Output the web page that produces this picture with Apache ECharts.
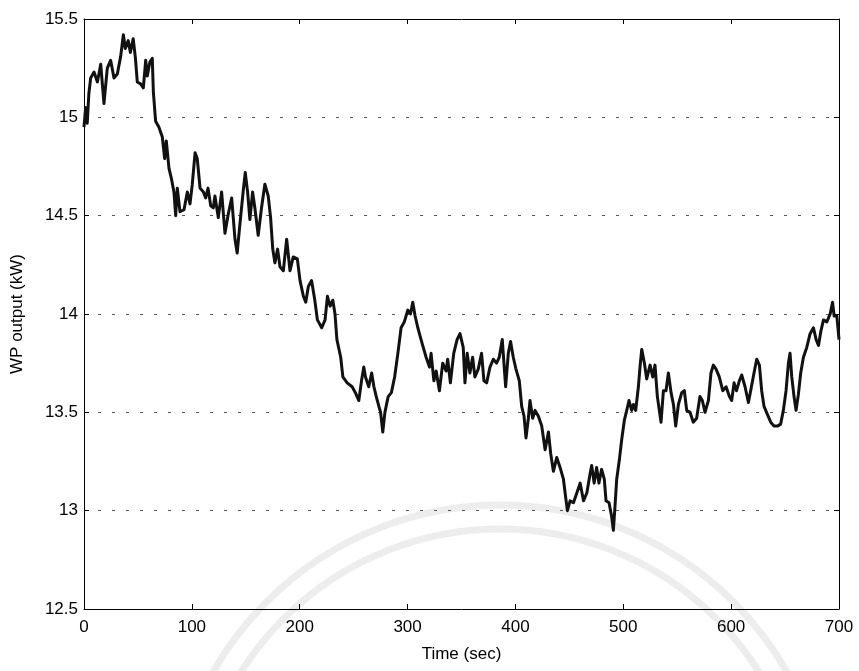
<!DOCTYPE html>
<html>
<head>
<meta charset="utf-8">
<title>WP output</title>
<script src="https://cdn.jsdelivr.net/npm/echarts@6/dist/echarts.min.js"></script>
<style>
  html, body { margin: 0; padding: 0; background: #ffffff; }
  #chart { width: 859px; height: 671px; }
</style>
</head>
<body>
<div id="chart"></div>
<script>
// Wind power output over a 700 s window
const timeSec = [
  0, 1.5, 3, 4.5, 6.2, 9.3, 12.4, 15.5, 18.5, 21.6, 24.7, 27.8, 30.9, 34, 36.5, 38.3, 41, 43, 45.6, 47.7,
  49.4, 52.5, 55, 57.2, 58.7, 61, 63.3, 64.3, 66.4, 69.5, 72.6, 74.8, 76.3, 78.8, 81, 83.4, 85, 86.5, 89, 92.7,
  95.8, 98.3, 100.4, 103, 105, 107.6, 110.7, 112.8, 115, 117.5, 119.9, 121.4, 124.5, 127.6, 130.7, 133.8, 136.9, 140, 142, 144.6,
  147.7, 149.5, 151.7, 153.8, 156.3, 158.4, 161.5, 164.6, 167.7, 170.8, 173, 175, 177, 179.5, 181.7, 184.8, 187.9, 191, 194, 197.8,
  200.3, 203.4, 205.6, 208, 211, 214, 216.4, 220.4, 223.5, 225.7, 228.2, 230.7, 232.7, 234.5, 236, 238, 240, 244, 248.6, 251.6,
  254.8, 257.3, 259.4, 261, 264, 266.7, 268.8, 271, 273.4, 275, 277, 279, 282, 285, 288, 291, 294, 297, 300.2, 302.7,
  304.8, 307, 309.5, 312, 314, 317.2, 320.3, 321.8, 324.4, 326.5, 329.5, 332.6, 335.7, 337.2, 339.7, 342.8, 345.9, 348.6, 351.6, 353.2,
  355.3, 357.8, 360.3, 362.4, 365.5, 368.6, 370.8, 373.3, 376.4, 379.5, 382.5, 385, 387.8, 390.9, 393.4, 395.5, 398, 400.5, 403.6, 405.8,
  408, 409.8, 412, 413.5, 416, 418.2, 421.3, 424.4, 427.5, 430.6, 432.7, 435.2, 438.3, 441.4, 444.5, 447, 448.2, 450.7, 453.8, 456.9,
  460, 463.1, 466.2, 469.3, 470.7, 473, 475.3, 477.4, 479.9, 482.4, 484, 486.8, 489.2, 490.8, 492.3, 493.9, 496.4, 498.5, 501, 503.2,
  505.3, 507.8, 509.4, 511.5, 514, 515.5, 517.1, 519.6, 521.7, 524.8, 527.3, 529.4, 531.6, 535, 537.2, 539.6, 541.8, 544.3, 546.5, 548.6,
  551.1, 554.2, 556.6, 558.8, 561.9, 564.9, 568, 571.1, 573.3, 575.8, 578.9, 581.3, 583.5, 586, 589, 592.2, 595.3, 598.4, 600.5, 602.7,
  605, 607.6, 609.8, 612.9, 616, 618.1, 621.2, 623.7, 626.2, 628.3, 630.5, 633.6, 636.7, 639.8, 642.9, 645.9, 648.4, 650.9, 653.1, 654.6,
  656.2, 658.3, 660.2, 662.3, 664.5, 667, 670.1, 673.2, 676.3, 678.8, 681, 683.1, 685.6, 688.7, 691.8, 694, 695.5, 698, 700
];

const powerKW = [
  14.95, 15.05, 14.97, 15.12, 15.2, 15.23, 15.18, 15.27, 15.07, 15.25, 15.29, 15.2, 15.22, 15.31, 15.42, 15.35, 15.39, 15.33, 15.4, 15.3,
  15.18, 15.17, 15.15, 15.29, 15.21, 15.28, 15.3, 15.13, 14.98, 14.95, 14.9, 14.79, 14.88, 14.74, 14.69, 14.62, 14.5, 14.64, 14.52, 14.53,
  14.62, 14.56, 14.66, 14.82, 14.79, 14.64, 14.62, 14.59, 14.64, 14.55, 14.54, 14.6, 14.49, 14.62, 14.41, 14.51, 14.59, 14.38, 14.31, 14.46,
  14.63, 14.72, 14.62, 14.48, 14.62, 14.54, 14.4, 14.54, 14.66, 14.6, 14.49, 14.33, 14.26, 14.33, 14.24, 14.22, 14.38, 14.22, 14.29, 14.28,
  14.17, 14.09, 14.06, 14.14, 14.17, 14.07, 13.97, 13.93, 13.97, 14.09, 14.04, 14.07, 14.0, 13.87, 13.87, 13.78, 13.68, 13.65, 13.63, 13.6,
  13.56, 13.66, 13.73, 13.68, 13.63, 13.7, 13.63, 13.58, 13.53, 13.5, 13.4, 13.5, 13.58, 13.6, 13.68, 13.8, 13.93, 13.96, 14.02, 14.0,
  14.06, 13.99, 13.93, 13.88, 13.84, 13.78, 13.73, 13.8, 13.66, 13.71, 13.61, 13.75, 13.71, 13.77, 13.65, 13.8, 13.87, 13.9, 13.83, 13.65,
  13.8, 13.7, 13.78, 13.68, 13.72, 13.8, 13.66, 13.65, 13.73, 13.77, 13.75, 13.78, 13.87, 13.63, 13.8, 13.86, 13.78, 13.72, 13.66, 13.53,
  13.48, 13.37, 13.47, 13.56, 13.47, 13.51, 13.48, 13.43, 13.31, 13.4, 13.29, 13.2, 13.27, 13.22, 13.16, 13.05, 13.0, 13.05, 13.04, 13.09,
  13.14, 13.05, 13.09, 13.19, 13.23, 13.14, 13.22, 13.14, 13.21, 13.16, 13.05, 13.04, 12.97, 12.9, 13.02, 13.16, 13.26, 13.36, 13.46, 13.51,
  13.56, 13.51, 13.54, 13.51, 13.63, 13.73, 13.82, 13.75, 13.67, 13.74, 13.68, 13.74, 13.58, 13.45, 13.61, 13.61, 13.7, 13.6, 13.54, 13.43,
  13.54, 13.6, 13.61, 13.51, 13.5, 13.45, 13.47, 13.58, 13.56, 13.5, 13.56, 13.7, 13.74, 13.72, 13.68, 13.61, 13.63, 13.58, 13.56, 13.65,
  13.61, 13.66, 13.69, 13.63, 13.55, 13.61, 13.7, 13.77, 13.74, 13.61, 13.53, 13.49, 13.45, 13.43, 13.43, 13.44, 13.51, 13.61, 13.75, 13.8,
  13.68, 13.58, 13.51, 13.59, 13.7, 13.78, 13.83, 13.9, 13.93, 13.87, 13.84, 13.91, 13.97, 13.96, 14.0, 14.06, 13.99, 13.99, 13.87
];

const xTicks = [0, 100, 200, 300, 400, 500, 600, 700];
const yTicks = [12.5, 13, 13.5, 14, 14.5, 15, 15.5];

const seriesData = timeSec.map((t, i) => [t, powerKW[i]]);

const labelFont = { fontFamily: 'Liberation Sans, Arial, sans-serif', fontSize: 17, color: '#000' };

const chart = echarts.init(document.getElementById('chart'), null, { renderer: 'canvas' });

const axisBase = {
  axisLine: { show: true, onZero: false, lineStyle: { color: '#000', width: 1 } },
  axisTick: { show: true, inside: true, length: 5, lineStyle: { color: '#000', width: 1 } },
  splitLine: { show: false }
};

// faint seal rings printed behind the plot
const sealRing = (r) => ({
  type: 'arc',
  silent: true,
  z: -10,
  shape: { cx: 500, cy: 835, r: r, startAngle: Math.PI, endAngle: 2 * Math.PI },
  style: { stroke: '#ededed', lineWidth: 7, fill: null }
});

chart.setOption({
  backgroundColor: '#ffffff',
  animation: false,
  graphic: [sealRing(330), sealRing(306)],
  grid: { left: 84, right: 20, top: 19, bottom: 62, containLabel: false },
  xAxis: [
    Object.assign({}, axisBase, {
      type: 'value', position: 'bottom', min: 0, max: 700, interval: 100,
      name: 'Time (sec)', nameLocation: 'middle', nameGap: 37,
      nameTextStyle: labelFont,
      axisLabel: Object.assign({ margin: 10, formatter: v => xTicks.includes(v) ? String(v) : '' }, labelFont)
    }),
    Object.assign({}, axisBase, {
      type: 'value', position: 'top', min: 0, max: 700, interval: 100,
      axisLabel: { show: false }
    })
  ],
  yAxis: [
    Object.assign({}, axisBase, {
      type: 'value', position: 'left', min: 12.5, max: 15.5, interval: 0.5,
      name: 'WP output (kW)', nameLocation: 'middle', nameGap: 58,
      nameTextStyle: labelFont,
      axisLabel: Object.assign({ margin: 6, formatter: v => yTicks.includes(v) ? String(v) : '' }, labelFont),
      splitLine: {
        show: true,
        lineStyle: { color: '#555', width: 1, type: [3, 11] }
      }
    }),
    Object.assign({}, axisBase, {
      type: 'value', position: 'right', min: 12.5, max: 15.5, interval: 0.5,
      axisLabel: { show: false }
    })
  ],
  series: [{
    type: 'line',
    data: seriesData,
    xAxisIndex: 0,
    yAxisIndex: 0,
    showSymbol: false,
    symbol: 'none',
    lineStyle: { color: '#111', width: 3, join: 'round' },
    z: 5
  }]
});
</script>
</body>
</html>
